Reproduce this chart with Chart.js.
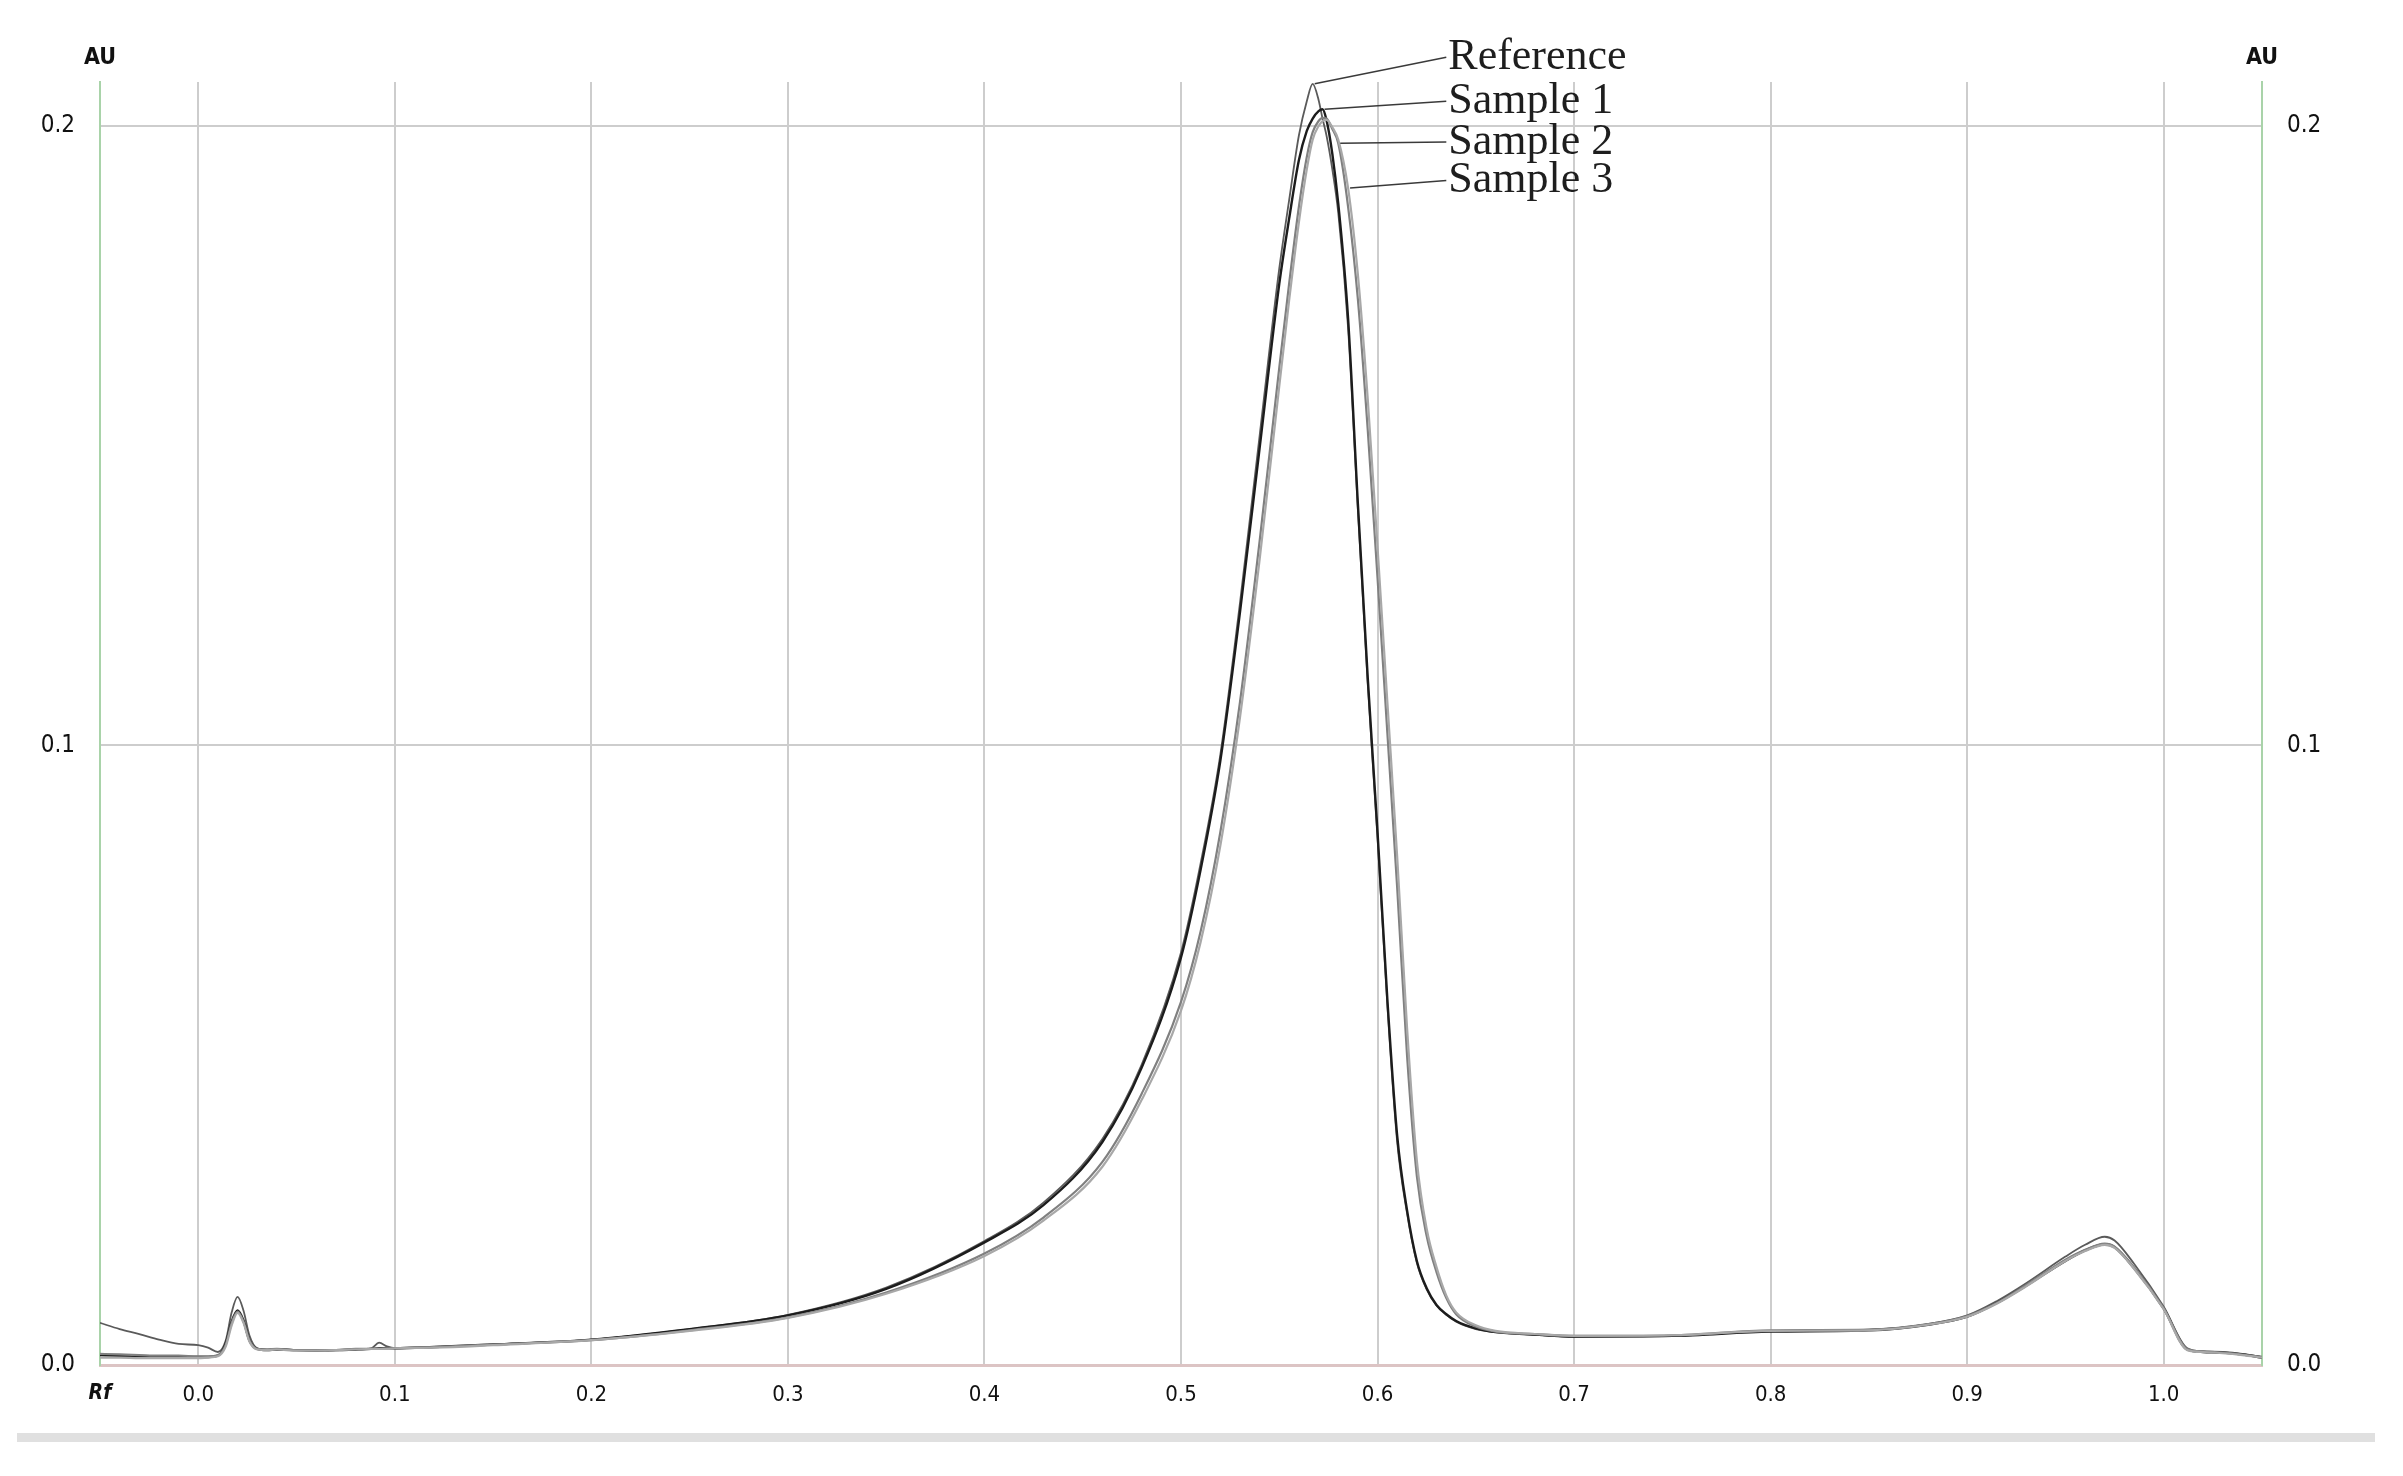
<!DOCTYPE html>
<html lang="en">
<head>
    <meta charset="UTF-8">
    <title>Densitogram - Reference and Samples</title>
    <script src="https://cdn.jsdelivr.net/npm/chart.js"></script>
    <style>
        html, body { margin: 0; padding: 0; background: #fff; }
        #chartBox { width: 2403px; height: 1476px; }
    </style>
</head>
<body>
    <div id="chartBox">
        <canvas id="densChart" width="2403" height="1476"></canvas>
    </div>
    <script>
        // Rf positions shared by all four scans
        const rf = [
            -0.05, -0.04, -0.03, -0.02, -0.01, 0.0, 0.005, 0.01, 0.014, 0.017,
            0.02, 0.023, 0.026, 0.03, 0.035, 0.04, 0.05, 0.06, 0.07, 0.08,
            0.088, 0.092, 0.096, 0.1, 0.12, 0.15, 0.2, 0.25, 0.3, 0.35,
            0.4, 0.43, 0.46, 0.48, 0.5, 0.51, 0.52, 0.53, 0.54, 0.55,
            0.555, 0.56, 0.564, 0.567, 0.57, 0.572, 0.574, 0.577, 0.58, 0.585,
            0.59, 0.595, 0.6, 0.605, 0.61, 0.615, 0.62, 0.625, 0.63, 0.635,
            0.64, 0.65, 0.66, 0.68, 0.7, 0.75, 0.8, 0.85, 0.88, 0.9,
            0.915, 0.93, 0.95, 0.96, 0.97, 0.975, 0.985, 1.0, 1.012, 1.02,
            1.03, 1.04, 1.05
        ];

        // absorbance (AU)
        const reference = [
            0.0068, 0.0058, 0.0050, 0.0041, 0.0034, 0.0032, 0.0028, 0.0021, 0.0040, 0.0085,
            0.0110, 0.0088, 0.0048, 0.0027, 0.0025, 0.0026, 0.0024, 0.0023, 0.0024, 0.0025,
            0.0027, 0.0036, 0.0030, 0.0027, 0.0029, 0.0033, 0.0041, 0.0058, 0.0081, 0.0125,
            0.0200, 0.0262, 0.0365, 0.0485, 0.0666, 0.0810, 0.0985, 0.1230, 0.1500, 0.1770,
            0.1880, 0.1985, 0.2040, 0.2068, 0.2042, 0.2012, 0.1985, 0.1930, 0.1860, 0.1675,
            0.1380, 0.1100, 0.0850, 0.0580, 0.0360, 0.0245, 0.0165, 0.0122, 0.0096, 0.0081,
            0.0070, 0.0058, 0.0053, 0.0049, 0.0046, 0.0047, 0.0055, 0.0057, 0.0066, 0.0080,
            0.0103, 0.0132, 0.0175, 0.0194, 0.0207, 0.0201, 0.0163, 0.0094, 0.0027, 0.0022,
            0.0021, 0.0018, 0.0013
        ];
        const sample1 = [
            0.0016, 0.0015, 0.0014, 0.0014, 0.0013, 0.0013, 0.0013, 0.0015, 0.0035, 0.0070,
            0.0088, 0.0072, 0.0040, 0.0026, 0.0024, 0.0025, 0.0024, 0.0023, 0.0024, 0.0025,
            0.0026, 0.0027, 0.0027, 0.0027, 0.0029, 0.0033, 0.0041, 0.0058, 0.0080, 0.0123,
            0.0198, 0.0258, 0.0360, 0.0480, 0.0658, 0.0800, 0.0975, 0.1215, 0.1480, 0.1745,
            0.1850, 0.1945, 0.1992, 0.2012, 0.2024, 0.2027, 0.2010, 0.1955, 0.1875, 0.1690,
            0.1390, 0.1110, 0.0860, 0.0590, 0.0370, 0.0250, 0.0168, 0.0124, 0.0097, 0.0082,
            0.0071, 0.0059, 0.0053, 0.0049, 0.0046, 0.0047, 0.0054, 0.0056, 0.0065, 0.0078,
            0.0100, 0.0128, 0.0168, 0.0185, 0.0195, 0.0190, 0.0156, 0.0091, 0.0025, 0.0021,
            0.0020, 0.0017, 0.0012
        ];
        const sample2 = [
            0.0018, 0.0017, 0.0016, 0.0015, 0.0015, 0.0014, 0.0014, 0.0016, 0.0033, 0.0068,
            0.0086, 0.0070, 0.0040, 0.0026, 0.0025, 0.0026, 0.0024, 0.0024, 0.0024, 0.0026,
            0.0026, 0.0026, 0.0027, 0.0027, 0.0029, 0.0033, 0.0040, 0.0056, 0.0077, 0.0117,
            0.0180, 0.0238, 0.0328, 0.0438, 0.0586, 0.0700, 0.0860, 0.1070, 0.1330, 0.1610,
            0.1745, 0.1870, 0.1950, 0.1990, 0.2008, 0.2013, 0.2012, 0.1995, 0.1972, 0.1870,
            0.1720, 0.1510, 0.1270, 0.1020, 0.0770, 0.0500, 0.0305, 0.0208, 0.0150, 0.0108,
            0.0082, 0.0062, 0.0054, 0.0050, 0.0047, 0.0048, 0.0056, 0.0057, 0.0066, 0.0079,
            0.0100, 0.0129, 0.0170, 0.0186, 0.0196, 0.0191, 0.0157, 0.0092, 0.0026, 0.0022,
            0.0020, 0.0017, 0.0013
        ];
        const sample3 = [
            0.0012, 0.0012, 0.0011, 0.0011, 0.0011, 0.0011, 0.0012, 0.0014, 0.0030, 0.0064,
            0.0084, 0.0068, 0.0038, 0.0025, 0.0024, 0.0025, 0.0023, 0.0023, 0.0024, 0.0025,
            0.0026, 0.0026, 0.0026, 0.0027, 0.0028, 0.0032, 0.0040, 0.0055, 0.0076, 0.0115,
            0.0176, 0.0233, 0.0320, 0.0428, 0.0572, 0.0683, 0.0838, 0.1045, 0.1300, 0.1580,
            0.1718, 0.1845, 0.1930, 0.1978, 0.2000, 0.2008, 0.2010, 0.1998, 0.1978, 0.1900,
            0.1760, 0.1560, 0.1320, 0.1070, 0.0820, 0.0545, 0.0330, 0.0220, 0.0158, 0.0112,
            0.0085, 0.0064, 0.0055, 0.0050, 0.0047, 0.0048, 0.0055, 0.0056, 0.0065, 0.0078,
            0.0099, 0.0127, 0.0168, 0.0184, 0.0194, 0.0189, 0.0155, 0.0090, 0.0024, 0.0021,
            0.0019, 0.0016, 0.0012
        ];

        const seriesNames = ['Reference', 'Sample 1', 'Sample 2', 'Sample 3'];
        const xTicks = [0.0, 0.1, 0.2, 0.3, 0.4, 0.5, 0.6, 0.7, 0.8, 0.9, 1.0];
        const yTicks = [0.0, 0.1, 0.2];

        // callout labels: which point of each scan the leader starts from,
        // and where the text sits (in Rf / AU units)
        const callouts = [
            { series: 0, pointIndex: 43, labelRf: 0.636, labelAU: 0.2111 },
            { series: 1, pointIndex: 45, labelRf: 0.636, labelAU: 0.2040 },
            { series: 2, pointIndex: 48, labelRf: 0.636, labelAU: 0.1974 },
            { series: 3, pointIndex: 49, labelRf: 0.636, labelAU: 0.1912 }
        ];

        const axisFont = '"Liberation Sans Narrow", "DejaVu Sans Condensed", "Roboto", sans-serif';
        const lineColors = ['#5a5a5a', '#1c1c1c', '#808080', '#a8a8a8'];
        const lineWidths = [1.8, 2.4, 2.2, 2.2];

        function toPoints(values) {
            return rf.map((x, i) => ({ x: x, y: values[i] }));
        }

        const pagePlugin = {
            id: 'pageDecor',
            beforeDraw(chart) {
                const ctx = chart.ctx;
                ctx.save();
                ctx.fillStyle = '#ffffff';
                ctx.fillRect(0, 0, chart.width, chart.height);
                ctx.fillStyle = '#e0e0e0';
                ctx.fillRect(17, 1433, 2358, 9);
                ctx.restore();
            },
            afterDatasetsDraw(chart) {
                const ctx = chart.ctx;
                const xs = chart.scales.x;
                const ys = chart.scales.y;
                ctx.save();
                ctx.strokeStyle = '#3a3a3a';
                ctx.lineWidth = 1.5;
                ctx.font = '44px "Liberation Serif", "DejaVu Serif", serif';
                ctx.fillStyle = '#1e1e1e';
                ctx.textBaseline = 'middle';
                ctx.textAlign = 'left';
                callouts.forEach(c => {
                    const pt = chart.getDatasetMeta(c.series).data[c.pointIndex];
                    const lx = xs.getPixelForValue(c.labelRf);
                    const ly = ys.getPixelForValue(c.labelAU);
                    ctx.beginPath();
                    ctx.moveTo(pt.x + 2, pt.y);
                    ctx.lineTo(lx - 2, ly);
                    ctx.stroke();
                    ctx.fillText(seriesNames[c.series], lx, ly);
                });
                ctx.restore();
            },
            afterDraw(chart) {
                const ctx = chart.ctx;
                const area = chart.chartArea;
                ctx.save();
                ctx.fillStyle = '#111';
                ctx.textAlign = 'center';
                ctx.textBaseline = 'middle';
                ctx.font = 'bold 23px ' + axisFont;
                ctx.fillText('AU', area.left, 58);
                ctx.fillText('AU', area.right, 58);
                ctx.font = 'italic bold 21px ' + axisFont;
                ctx.fillText('Rf', area.left, 1394);
                ctx.restore();
            }
        };

        document.addEventListener('DOMContentLoaded', function() {
            const ctx = document.getElementById('densChart').getContext('2d');
            const datasets = [reference, sample1, sample2, sample3].map((vals, i) => ({
                label: seriesNames[i],
                data: toPoints(vals),
                borderColor: lineColors[i],
                borderWidth: lineWidths[i],
                pointRadius: 0,
                fill: false,
                cubicInterpolationMode: 'monotone',
                order: 3 - i
            }));

            const yAxis = (side, width, showGrid) => ({
                type: 'linear',
                position: side,
                min: 0,
                max: 0.2071,
                afterBuildTicks: scale => { scale.ticks = yTicks.map(v => ({ value: v })); },
                afterFit: scale => { scale.width = width; },
                ticks: {
                    padding: 25,
                    color: '#111',
                    font: { family: axisFont, size: 24 },
                    callback: v => v.toFixed(1)
                },
                grid: {
                    display: showGrid,
                    drawTicks: false,
                    lineWidth: 2,
                    color: c => (c.tick && c.tick.value === 0) ? 'rgba(0,0,0,0)' : '#cdcdcd'
                },
                border: { display: true, color: '#a9d3a9', width: 2 }
            });

            new Chart(ctx, {
                type: 'line',
                data: { datasets: datasets },
                plugins: [pagePlugin],
                options: {
                    responsive: false,
                    animation: false,
                    devicePixelRatio: 1,
                    layout: { padding: { top: 82, left: 0, right: 0, bottom: 0 } },
                    plugins: {
                        legend: { display: false },
                        tooltip: { enabled: false }
                    },
                    scales: {
                        x: {
                            type: 'linear',
                            min: -0.05,
                            max: 1.05,
                            afterBuildTicks: scale => { scale.ticks = xTicks.map(v => ({ value: v })); },
                            afterFit: scale => { scale.height = 111; },
                            ticks: {
                                padding: 17,
                                color: '#111',
                                maxRotation: 0,
                                autoSkip: false,
                                font: { family: axisFont, size: 22 },
                                callback: v => v.toFixed(1)
                            },
                            grid: { drawTicks: false, lineWidth: 2, color: '#cdcdcd' },
                            border: { display: true, color: '#dcc4c4', width: 3 }
                        },
                        y: yAxis('left', 100, true),
                        y2: yAxis('right', 141, false)
                    }
                }
            });
        });
    </script>
</body>
</html>
